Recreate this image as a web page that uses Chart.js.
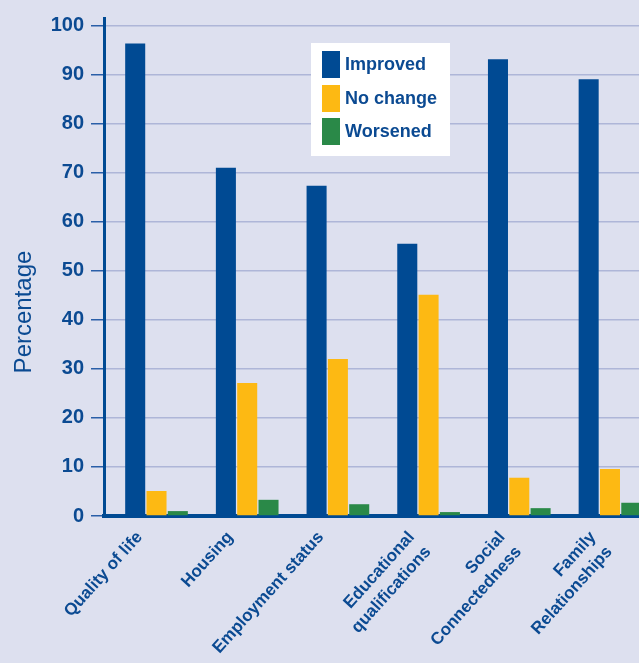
<!DOCTYPE html>
<html>
<head>
<meta charset="utf-8">
<script src="https://cdn.jsdelivr.net/npm/chart.js@4.4.1/dist/chart.umd.min.js"></script>
<style>
  html, body { margin: 0; padding: 0; background: #DDE0EF; overflow: hidden; }
  #wrap { width: 639px; height: 663px; }
</style>
</head>
<body>
<div id="wrap"><canvas id="c" width="639" height="663"></canvas></div>
<script>
// ---- data ----
const categories = [
  'Quality of life',
  'Housing',
  'Employment status',
  ['Educational', 'qualifications'],
  ['Social', 'Connectedness'],
  ['Family', 'Relationships']
];
const seriesNames = ['Improved', 'No change', 'Worsened'];
const improved = [96.3, 71.0, 67.3, 55.5, 93.1, 89.0];
const noChange = [5.1, 27.1, 32.0, 45.1, 7.8, 9.6];
const worsened = [1.0, 3.3, 2.4, 0.8, 1.6, 2.7];
const yTicks = [0, 10, 20, 30, 40, 50, 60, 70, 80, 90, 100];
const yTitle = 'Percentage';

// ---- style ----
const BLUE = '#004A93';
const YELLOW = '#FDB913';
const GREEN = '#2A8948';
const TEXT = '#0B4A92';
const GRID = '#AEB6D8';
const FONT = '"Liberation Sans", Arial, sans-serif';

const toPoints = arr => arr.map((v, i) => ({ x: i, y: v }));

const overlayPlugin = {
  id: 'overlay',
  afterDraw(chart) {
    const ctx = chart.ctx;
    ctx.save();
    // y title
    ctx.fillStyle = TEXT;
    ctx.font = '24px ' + FONT;
    ctx.textAlign = 'center';
    ctx.textBaseline = 'middle';
    ctx.translate(24, 312);
    ctx.rotate(-Math.PI / 2);
    ctx.fillText(yTitle, 0, 0);
    ctx.restore();

    // legend box
    ctx.save();
    ctx.fillStyle = '#FFFFFF';
    ctx.fillRect(311, 43, 139, 113);
    const ds = chart.data.datasets;
    const rowY = [51, 85, 118];
    ds.forEach((d, i) => {
      ctx.fillStyle = d.backgroundColor;
      ctx.fillRect(322, rowY[i], 18, 27);
      ctx.fillStyle = TEXT;
      ctx.font = 'bold 18px ' + FONT;
      ctx.textAlign = 'left';
      ctx.textBaseline = 'middle';
      ctx.fillText(d.label, 345, rowY[i] + 14);
    });
    ctx.restore();
  }
};

new Chart(document.getElementById('c'), {
  type: 'bar',
  data: {
    datasets: [
      { label: seriesNames[0], data: toPoints(improved), backgroundColor: BLUE },
      { label: seriesNames[1], data: toPoints(noChange), backgroundColor: YELLOW },
      { label: seriesNames[2], data: toPoints(worsened), backgroundColor: GREEN }
    ]
  },
  options: {
    responsive: false,
    animation: false,
    devicePixelRatio: 1,
    layout: { padding: { top: 18, left: 0, right: 0, bottom: 0 } },
    datasets: { bar: { categoryPercentage: 0.705, barPercentage: 0.94, grouped: true } },
    plugins: { legend: { display: false }, tooltip: { enabled: false } },
    scales: {
      x: {
        type: 'linear',
        min: -0.579,
        max: 5.32,
        offset: false,
        grid: { display: true, color: 'rgba(0,0,0,0)', drawTicks: false },
        border: { display: true, color: BLUE, width: 4 },
        ticks: {
          stepSize: 1,
          includeBounds: false,
          autoSkip: false,
          minRotation: 48,
          maxRotation: 48,
          padding: 11,
          labelOffset: -17,
          color: TEXT,
          font: { family: FONT, weight: 'bold', size: 17, lineHeight: 1.3 },
          callback: v => (Number.isInteger(v) && categories[v] !== undefined) ? categories[v] : ''
        },
        afterBuildTicks: s => {
          s.ticks = s.ticks.filter(t => Number.isInteger(t.value) && t.value >= 0 && t.value < categories.length);
        },
        afterFit: s => { s.height = 147; s.paddingLeft = 0; s.paddingRight = 0; }
      },
      y: {
        type: 'linear',
        min: 0,
        max: 101.5,
        grid: { color: GRID, lineWidth: 1.5, drawTicks: true, tickLength: 13, tickColor: '#2A5FA8', tickWidth: 1.5 },
        border: { display: true, color: BLUE, width: 3 },
        ticks: {
          stepSize: 10,
          includeBounds: false,
          padding: 7,
          color: TEXT,
          font: { family: FONT, weight: 'bold', size: 20 },
          callback: v => yTicks.includes(v) ? String(v) : ''
        },
        afterBuildTicks: s => {
          s.ticks = s.ticks.filter(t => yTicks.includes(t.value));
        },
        afterFit: s => { s.width = 104; s.paddingTop = 0; s.paddingBottom = 0; }
      }
    }
  },
  plugins: [overlayPlugin]
});
</script>
</body>
</html>
